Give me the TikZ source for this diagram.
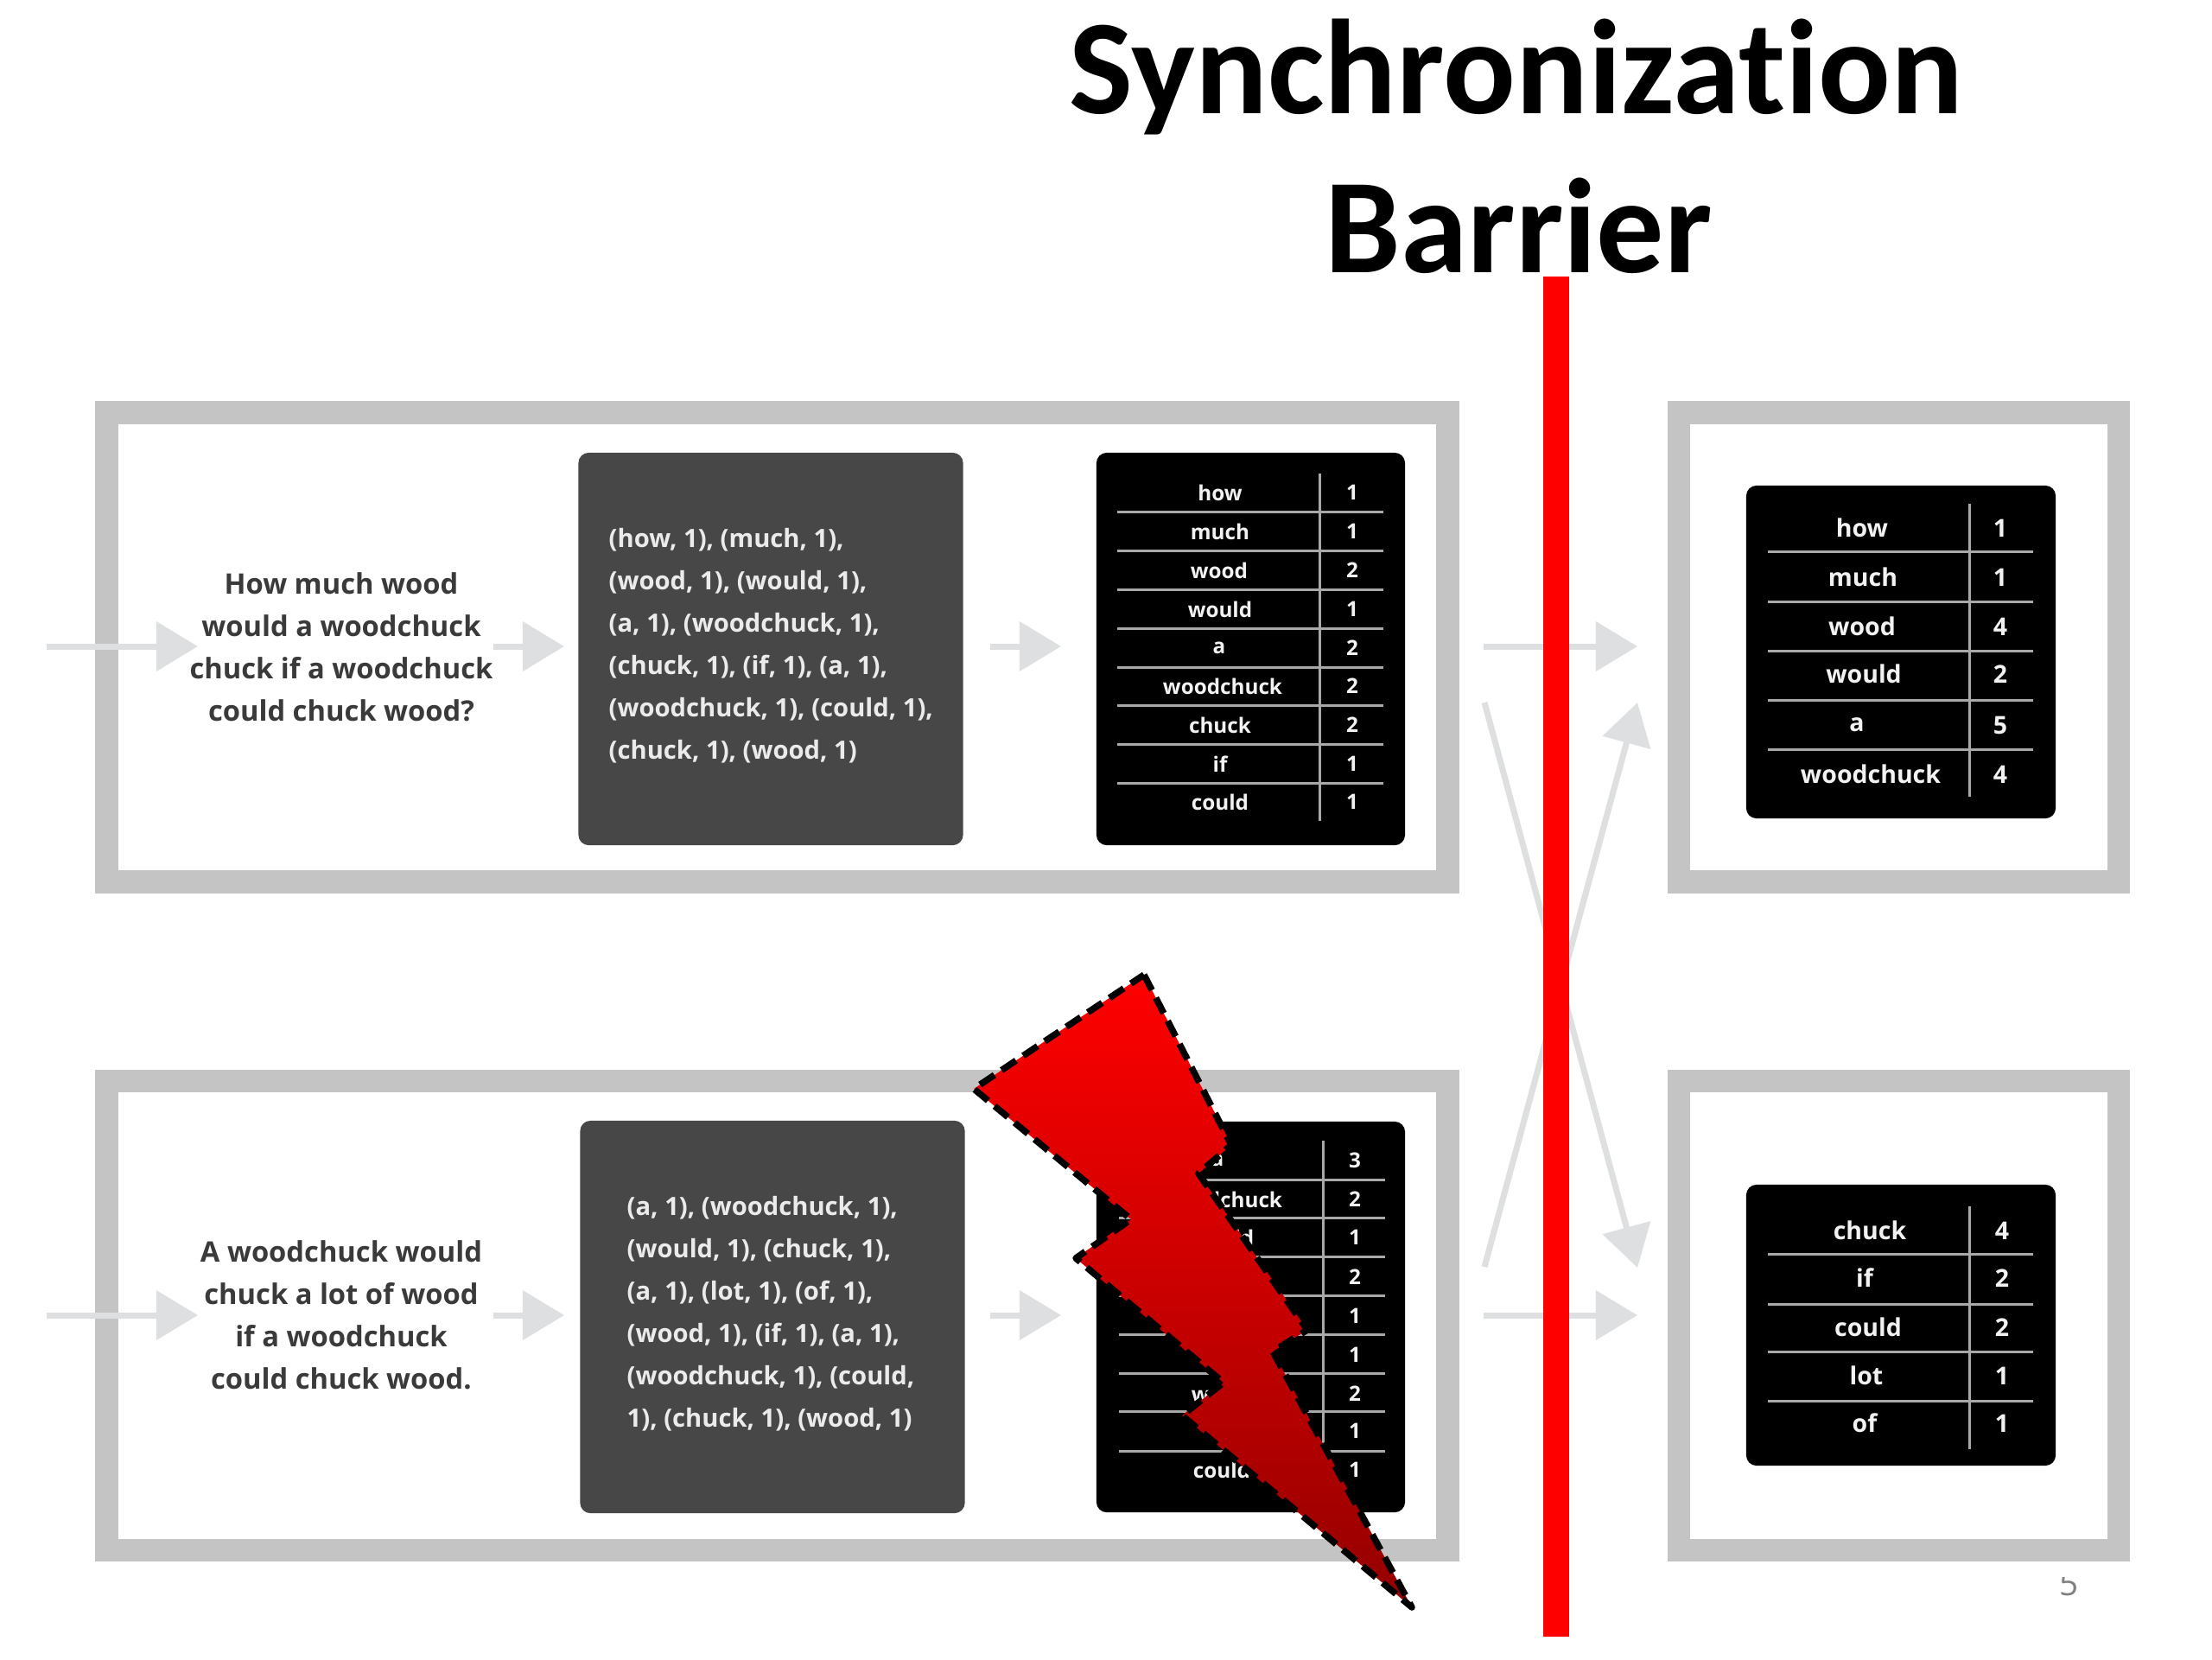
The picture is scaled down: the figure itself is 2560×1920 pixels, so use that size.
\documentclass[tikz,border=0pt]{standalone}
\usepackage{fontspec}
\usetikzlibrary{arrows.meta}
\setmainfont{Open Sans}
\newfontfamily\titlefont[Ligatures=NoCommon]{Carlito}
\definecolor{framegray}{HTML}{C4C4C4}
\definecolor{arrowgray}{HTML}{DEDFE0}
\definecolor{darkbox}{HTML}{474747}
\definecolor{inkgray}{HTML}{3A3A3A}
\definecolor{rulegray}{HTML}{A8A8A8}
\tikzset{
  frame/.style={draw=framegray,line width=.265cm,fill=white,minimum width=#1,minimum height=5.425cm,inner sep=0pt},
  panel/.style={rounded corners=.12cm,inner sep=0pt},
  greypanel/.style={panel,fill=darkbox,minimum width=4.45cm,minimum height=4.54cm},
  blackpanel/.style={panel,fill=black},
  flow/.style={draw=arrowgray,line width=.07cm,-{Triangle[length=.48cm,width=.56cm,fill=arrowgray]},shorten >=0pt},
  lead/.style={font=\fontsize{9.3}{13.95}\selectfont\bfseries,text=inkgray,align=center,inner sep=0pt},
  pairs/.style={font=\fontsize{8.3}{13.95}\selectfont\bfseries,text=white!92!black,align=left,anchor=west,inner sep=0pt},
  cellA/.style={font=\fontsize{6.9}{8}\selectfont\bfseries,text=white!95!black,inner sep=0pt},
  cellB/.style={font=\fontsize{8.1}{9}\selectfont\bfseries,text=white!95!black,inner sep=0pt},
  tabrule/.style={draw=rulegray,line width=.03cm},
  titletext/.style={font=\titlefont\fontsize{44.4}{50}\selectfont\bfseries,text=black,inner sep=0pt,anchor=base},
}
\begin{document}
\begin{tikzpicture}[x=0.01cm,y=-0.01cm]
\useasboundingbox (0,0) rectangle (2560,1920);
\fill[white] (0,0) rectangle (2560,1920);
% frames
\node[frame=15.51cm] (f1) at (899.5,749) {};
\node[frame=15.51cm] (f2) at (899.5,1522.5) {};
\node[frame=5.09cm] (f3) at (2197.5,749) {};
\node[frame=5.09cm] (f4) at (2197.5,1522.5) {};
% panels
\node[greypanel] (g1) at (892,751) {};
\node[greypanel] (g2) at (894,1524) {};
\node[blackpanel,minimum width=3.57cm,minimum height=4.54cm] (b1) at (1447.5,751) {};
\node[blackpanel,minimum width=3.57cm,minimum height=4.52cm] (b2) at (1447.5,1524) {};
\node[blackpanel,minimum width=3.58cm,minimum height=3.85cm] (b3) at (2200,754.5) {};
\node[blackpanel,minimum width=3.58cm,minimum height=3.25cm] (b4) at (2200,1533.5) {};
% texts
\node[lead] (q1) at (395,749) {How much wood\\would a woodchuck\\chuck if a woodchuck\\could chuck wood?};
\node[lead] (q2) at (395,1522) {A woodchuck would\\chuck a lot of wood\\if a woodchuck\\could chuck wood.};
\node[pairs] (p1) at (704,747) {(how, 1), (much, 1),\\(wood, 1), (would, 1),\\(a, 1), (woodchuck, 1),\\(chuck, 1), (if, 1), (a, 1),\\(woodchuck, 1), (could, 1),\\(chuck, 1), (wood, 1)};
\node[pairs] (p2) at (725,1520) {(a, 1), (woodchuck, 1),\\(would, 1), (chuck, 1),\\(a, 1), (lot, 1), (of, 1),\\(wood, 1), (if, 1), (a, 1),\\(woodchuck, 1), (could,\\1), (chuck, 1), (wood, 1)};
% table 1
\foreach \yy in {592,637,682,727,772,816,861,906} \draw[tabrule] (1293,\yy) -- (1601,\yy);
\draw[tabrule] (1527,548) -- (1527,950);
\foreach \n/\w/\c/\yy/\xx in {1/how/1/570/1412,2/much/1/615/1412,3/wood/2/660/1411,4/would/1/705/1412,5/a/2/750/1411,6/woodchuck/2/794/1415,7/chuck/2/839/1412,8/if/1/884/1412,9/could/1/928/1412}{
  \node[cellA] (ta\n) at (\xx,\yy) {\w};
  \node[cellA] (tb\n) at (1565,\yy) {\c};
}
% table 2
\foreach \yy in {1365,1409,1454,1499,1544,1589,1633,1679} \draw[tabrule] (1295,\yy) -- (1603,\yy);
\draw[tabrule] (1531,1320) -- (1531,1722);
\foreach \n/\w/\yy/\xx in {1/a/1343/1409,2/woodchuck/1388/1415,3/would/1432/1414,7/wood/1613/1412,9/could/1701/1414}{
  \node[cellA] (ua\n) at (\xx,\yy) {\w};
}
\foreach \n/\c/\yy in {1/3/1343,2/2/1388,3/1/1432,4/2/1478,5/1/1523,6/1/1568,7/2/1613,8/1/1656,9/1/1701}{
  \node[cellA] (ub\n) at (1568,\yy) {\c};
}
% table 3
\foreach \yy in {638,696,753,810,867} \draw[tabrule] (2046,\yy) -- (2353,\yy);
\draw[tabrule] (2279,583) -- (2279,922);
\foreach \n/\w/\c/\yy/\xx in {1/how/1/611/2155,2/much/1/668/2156,3/wood/4/725/2155,4/would/2/780/2157,5/a/5/839/2149,6/woodchuck/4/896/2165}{
  \node[cellB] (va\n) at (\xx,\yy) {\w};
  \node[cellB] (vb\n) at (2315,\yy) {\c};
}
% table 4
\foreach \yy in {1451,1509,1564,1621} \draw[tabrule] (2046,\yy) -- (2353,\yy);
\draw[tabrule] (2279,1396) -- (2279,1677);
\foreach \n/\w/\c/\yy/\xx in {1/chuck/4/1424/2164,2/if/2/1479/2158,3/could/2/1536/2162,4/lot/1/1592/2160,5/of/1/1647/2158}{
  \node[cellB] (wa\n) at (\xx,\yy) {\w};
  \node[cellB] (wb\n) at (2317,\yy) {\c};
}
% arrow ends
\coordinate (a1s) at (54,748);   \coordinate (a1e) at (229,748);
\coordinate (a2s) at (571,748);  \coordinate (a2e) at (653,748);
\coordinate (a3s) at (1146,748); \coordinate (a3e) at (1228,748);
\coordinate (a4s) at (1717,748); \coordinate (a4e) at (1895,748);
\coordinate (b1s) at (54,1522);   \coordinate (b1e) at (229,1522);
\coordinate (b2s) at (571,1522);  \coordinate (b2e) at (653,1522);
\coordinate (b3s) at (1146,1522); \coordinate (b3e) at (1228,1522);
\coordinate (b4s) at (1717,1522); \coordinate (b4e) at (1895,1522);
\coordinate (d1s) at (1718,813);  \coordinate (d1e) at (1895,1467);
\coordinate (d2s) at (1718,1466); \coordinate (d2e) at (1895,813);
\foreach \s/\e in {a1s/a1e,a2s/a2e,a3s/a3e,a4s/a4e,b1s/b1e,b2s/b2e,b3s/b3e,b4s/b4e,d1s/d1e,d2s/d2e}
  \draw[flow] (\s) -- (\e);
% title and barrier
\node[titletext] (t1) at (1755,131) {Synchronization};
\node[titletext] (t2) at (1758,315) {Barrier};
\fill[red] (1786,320) rectangle (1816,1894);
% bolt
\path[shading angle=145,top color=red,middle color=red!92!black,bottom color=red!58!black,draw=black,line width=.075cm,dash pattern=on .2cm off .1cm,line join=round]
 (1324,1128) -- (1425,1325) -- (1387,1358) -- (1513,1539) -- (1473,1564) -- (1634,1860) -- (1368,1638) -- (1416,1600) -- (1245,1456) -- (1309,1411) -- (1127,1260) -- cycle;
% slide number
\begin{scope}
\clip (2370,1825) rectangle (2420,1860);
\node[font=\fontsize{11}{11}\selectfont,text=gray,anchor=base,inner sep=0pt] (pg) at (2395,1846) {5};
\end{scope}
\end{tikzpicture}
\end{document}
